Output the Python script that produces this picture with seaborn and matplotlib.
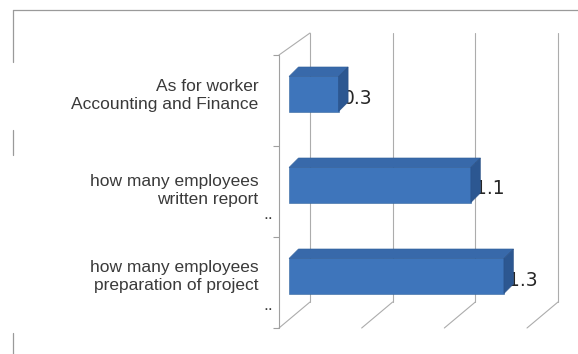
import matplotlib
matplotlib.use("Agg")
import matplotlib.pyplot as plt
import matplotlib.transforms as mtransforms
from matplotlib.patches import Polygon
from matplotlib.lines import Line2D
import seaborn as sns
import pandas as pd

# ---- data -------------------------------------------------------------
categories = [
    "As for worker\nAccounting and Finance",
    "how many employees\nwritten report",
    "how many employees\npreparation of project",
]
values = [0.3, 1.1, 1.3]
value_labels = ["0.3", "1.1", "1.3"]
grid_values = [0.0, 0.5, 1.0, 1.5]
trailing_marks = ["", "..", ".."]

# ---- style ------------------------------------------------------------
sns.set_theme(style="white")
plt.rcParams["font.family"] = ["Liberation Sans", "DejaVu Sans"]

FRONT = "#3E75BB"
TOP = "#3869AA"
SIDE = "#2C5791"
GRID = "#acacac"
TEXT = "#3a3a3a"

W, H, DPI = 578, 354, 100
fig = plt.figure(figsize=(W / DPI, H / DPI), dpi=DPI)
fig.patch.set_facecolor("white")

# front plane of the 3-D box (pixels)
left_px, right_px, top_px, bot_px = 279, 527, 55, 328
ax = fig.add_axes([left_px / W, 1 - bot_px / H,
                   (right_px - left_px) / W, (bot_px - top_px) / H])
ax.set_facecolor("none")

df = pd.DataFrame({"category": categories, "value": values})
sns.barplot(data=df, x="value", y="category", orient="h", color=FRONT,
            width=0.385, saturation=1, ax=ax, zorder=3,
            edgecolor="#35679f", linewidth=0.4)

ax.set_xlim(0, 1.5)
ax.set_ylim(2.5, -0.5)
ax.set_xlabel("")
ax.set_ylabel("")
ax.set_xticks([])
for s in ax.spines.values():
    s.set_visible(False)

sx = (right_px - left_px) / 1.5     # pixels per value unit
sy = (bot_px - top_px) / 3.0        # pixels per category band

# bars sit a little behind the front plane
bar_tr = ax.transData + mtransforms.ScaledTranslation(10 / DPI, 6.5 / DPI,
                                                      fig.dpi_scale_trans)
ddx, ddy = 9.5 / sx, -9.5 / sy      # bar depth
for p in ax.patches:
    p.set_transform(bar_tr)
    x0, w = p.get_x(), p.get_width()
    y0, h = p.get_y(), p.get_height()
    yt, yb = min(y0, y0 + h), max(y0, y0 + h)
    x1 = x0 + w
    top = Polygon([(x0, yt), (x1, yt), (x1 + ddx, yt + ddy), (x0 + ddx, yt + ddy)],
                  closed=True, facecolor=TOP, edgecolor="#305f9a", lw=0.4,
                  transform=bar_tr, zorder=3)
    side = Polygon([(x1, yt), (x1 + ddx, yt + ddy), (x1 + ddx, yb + ddy), (x1, yb)],
                   closed=True, facecolor=SIDE, edgecolor="#284f85", lw=0.4,
                   transform=bar_tr, zorder=3)
    ax.add_patch(top)
    ax.add_patch(side)

# value labels, tucked just behind the bar ends
for i, (v, lab) in enumerate(zip(values, value_labels)):
    ax.text(v + 4 / sx, i + 4 / sy, lab, transform=bar_tr, ha="left",
            va="center", fontsize=13.5, color="#262626",
            family="DejaVu Sans", zorder=2, clip_on=False)

# back wall, floor edges and left wall
back_dx = 31 / sx
top_dy, bot_dy = -22 / sy, -26 / sy
for v in grid_values:
    ax.plot([v + back_dx] * 2, [-0.5 + top_dy, 2.5 + bot_dy], color=GRID,
            lw=0.8, clip_on=False, zorder=1)
    ax.plot([v, v + back_dx], [2.5, 2.5 + bot_dy], color=GRID, lw=0.8,
            clip_on=False, zorder=1)
ax.plot([0, back_dx], [-0.5, -0.5 + top_dy], color=GRID, lw=0.8,
        clip_on=False, zorder=1)
ax.plot([0, 0], [-0.5, 2.5], color="#a0a0a0", lw=0.8, clip_on=False, zorder=1)

# category axis ticks and labels
ax.set_yticks([-0.5, 0.5, 1.5, 2.5], minor=True)
ax.tick_params(axis="y", which="minor", left=True, length=6 / 1.389,
               width=0.8, color="#a0a0a0")
ax.tick_params(axis="y", which="major", left=False, length=0, pad=15,
               labelsize=12.5, labelcolor=TEXT)
label_lift_px = [8, 4, 9]
for lab, lift in zip(ax.get_yticklabels(), label_lift_px):
    lab.set_linespacing(1.25)
    shift = mtransforms.ScaledTranslation(0, lift / DPI, fig.dpi_scale_trans)
    lab.set_transform(lab.get_transform() + shift)

for i, m in enumerate(trailing_marks):
    if m:
        ax.text(-11 / sx, i + 23 / sy, m, ha="center", va="center",
                fontsize=12.5, color=TEXT, clip_on=False)

# outer chart frame
frame_c = "#9a9a9a"
fig.add_artist(Line2D([13 / W, 1], [1 - 10 / H] * 2, transform=fig.transFigure,
                      color=frame_c, lw=0.9))
for ya, yb in [(10, 62), (130, 155), (333, 354)]:
    fig.add_artist(Line2D([13 / W] * 2, [1 - ya / H, 1 - yb / H],
                          transform=fig.transFigure, color=frame_c, lw=0.9))

fig.savefig("out.png", dpi=DPI)
